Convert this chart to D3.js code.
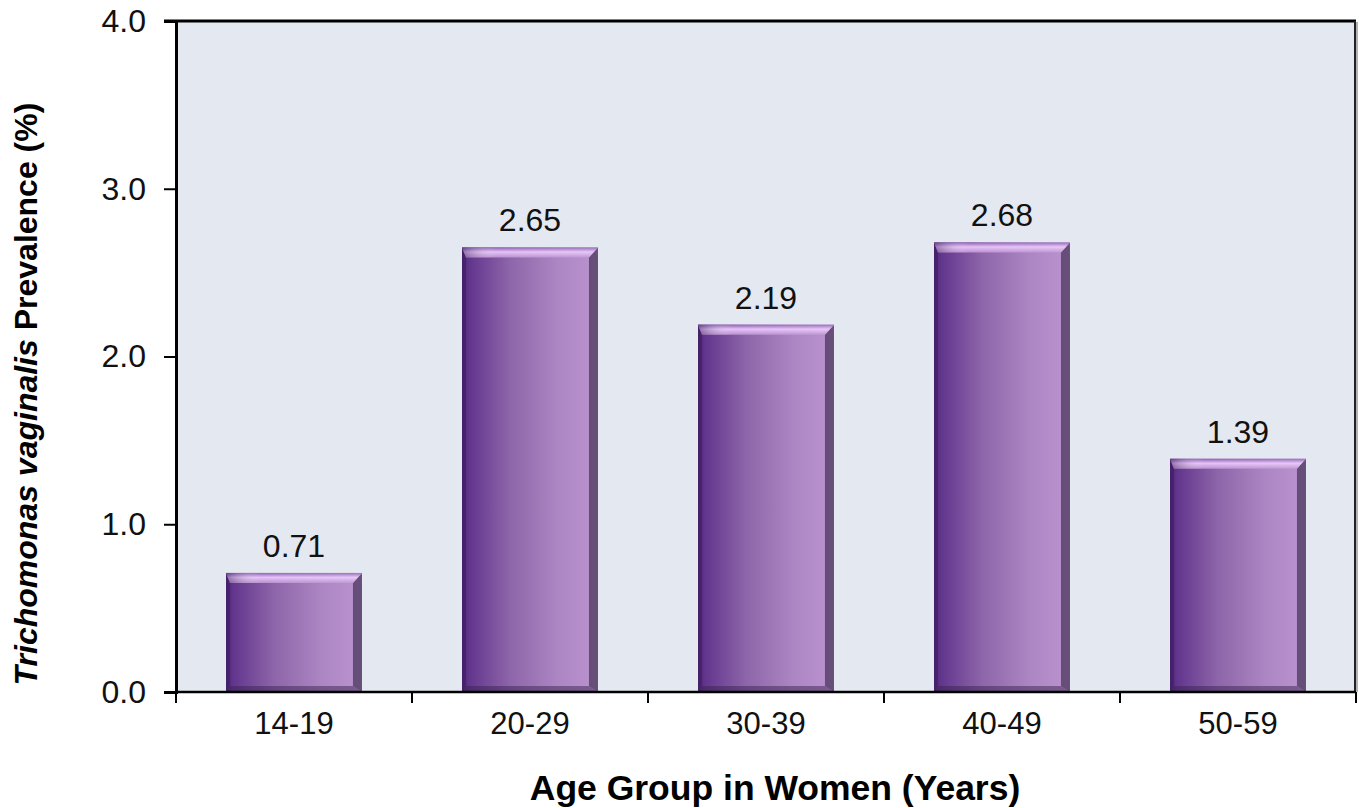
<!DOCTYPE html>
<html>
<head>
<meta charset="utf-8">
<script src="https://cdn.jsdelivr.net/npm/d3@7"></script>
<style>
  html, body { margin: 0; padding: 0; background: #ffffff; }
  svg { display: block; }
  text { font-family: "Liberation Sans", Arial, sans-serif; }
</style>
</head>
<body>
<svg id="chart" width="1359" height="808"></svg>
<script>
// Trichomonas vaginalis prevalence by age group
const ageGroups = ["14-19", "20-29", "30-39", "40-49", "50-59"];
const prevalence = [0.71, 2.65, 2.19, 2.68, 1.39];
const yTicks = [0, 1, 2, 3, 4];

const W = 1359, H = 808;
const margin = { top: 21, right: 3, bottom: 116, left: 176 };
const innerW = W - margin.left - margin.right;
const innerH = H - margin.top - margin.bottom;

const svg = d3.select("#chart");
const defs = svg.append("defs");

// Face gradient: deep purple on the left fading to lavender on the right
const face = defs.append("linearGradient").attr("id", "barFace")
  .attr("x1", "0%").attr("x2", "100%").attr("y1", "0%").attr("y2", "0%");
[["0%", "#4c2474"], ["5%", "#62358d"], ["35%", "#8d65a9"], ["70%", "#ac86c3"], ["100%", "#bb93cf"]]
  .forEach(([o, c]) => face.append("stop").attr("offset", o).attr("stop-color", c));

// Top bevel highlight
const topG = defs.append("linearGradient").attr("id", "barTop")
  .attr("x1", "0%").attr("x2", "0%").attr("y1", "0%").attr("y2", "100%");
[["0%", "#8e62b2"], ["45%", "#e6c2f8"], ["100%", "#b890cf"]]
  .forEach(([o, c]) => topG.append("stop").attr("offset", o).attr("stop-color", c));
const topH = defs.append("linearGradient").attr("id", "barTopH")
  .attr("x1", "0%").attr("x2", "100%").attr("y1", "0%").attr("y2", "0%");
[["0%", "#2a0a4a", 0.45], ["25%", "#fff", 0], ["100%", "#fff", 0.1]]
  .forEach(([o, c, a]) => topH.append("stop").attr("offset", o).attr("stop-color", c).attr("stop-opacity", a));

const g = svg.append("g").attr("transform", `translate(${margin.left},${margin.top})`);

const x = d3.scaleBand().domain(ageGroups).range([0, innerW]).paddingInner(0.424).paddingOuter(0.212);
const y = d3.scaleLinear().domain([0, 4]).range([innerH, 0]);

// Plot background
g.append("rect").attr("x", 0).attr("y", 0).attr("width", innerW).attr("height", innerH)
  .attr("fill", "#e4e8f0");

// Frame: top and right edges
g.append("line").attr("x1", -12).attr("x2", innerW).attr("y1", 0).attr("y2", 0)
  .attr("stroke", "#000").attr("stroke-width", 3);
g.append("line").attr("x1", innerW - 1).attr("x2", innerW - 1).attr("y1", 0).attr("y2", innerH)
  .attr("stroke", "#222").attr("stroke-width", 2);
g.append("line").attr("x1", innerW + 1).attr("x2", innerW + 1).attr("y1", 1).attr("y2", innerH)
  .attr("stroke", "#9a9a9a").attr("stroke-width", 1.5);

// Bars with bevelled edges
const data = ageGroups.map((k, i) => ({ k, v: prevalence[i] }));
const bars = g.selectAll("g.bar").data(data).join("g").attr("class", "bar");
const bevTop = 10, bevSide = 9, bevLeft = 4, bevBottom = 6;
bars.each(function (d) {
  const sel = d3.select(this);
  const x0 = x(d.k), x1 = x0 + x.bandwidth();
  const y0 = y(d.v), y1 = y(0);
  sel.append("rect").attr("x", x0).attr("y", y0).attr("width", x1 - x0).attr("height", y1 - y0)
    .attr("fill", "url(#barFace)");
  const poly = (pts, fill, op) => sel.append("polygon")
    .attr("points", pts.map(p => p.join(",")).join(" "))
    .attr("fill", fill).attr("fill-opacity", op == null ? 1 : op);
  // left edge
  poly([[x0, y0], [x0 + bevLeft, y0 + bevTop], [x0 + bevLeft, y1 - bevBottom], [x0, y1]], "#3c1a5c", 0.5);
  // bottom edge
  poly([[x0, y1], [x0 + bevLeft, y1 - bevBottom], [x1 - bevSide, y1 - bevBottom], [x1, y1]], "#3a2450", 0.5);
  // right edge
  poly([[x1, y0], [x1 - bevSide, y0 + bevTop], [x1 - bevSide, y1 - bevBottom], [x1, y1]], "#3b2a4c", 0.65);
  // top highlight
  const topPts = [[x0, y0], [x1, y0], [x1 - bevSide, y0 + bevTop], [x0 + bevLeft, y0 + bevTop]];
  poly(topPts, "url(#barTop)");
  poly(topPts, "url(#barTopH)");
});

// Value labels
g.selectAll("text.val").data(data).join("text").attr("class", "val")
  .attr("x", d => x(d.k) + x.bandwidth() / 2)
  .attr("y", d => y(d.v) - 16)
  .attr("text-anchor", "middle")
  .attr("font-size", 32).attr("fill", "#111")
  .text(d => d.v.toFixed(2));

// Y axis
const yAxis = g.append("g").call(d3.axisLeft(y).tickValues(yTicks).tickFormat(d3.format(".1f"))
  .tickSize(12).tickPadding(18));
yAxis.attr("font-size", null).attr("font-family", null);
yAxis.select(".domain").attr("stroke", "#000").attr("stroke-width", 3);
yAxis.selectAll(".tick line").attr("stroke", "#000").attr("stroke-width", 2);
yAxis.selectAll(".tick text").attr("font-size", 32).attr("fill", "#111");

// X axis with boundary ticks between categories
const xAxisG = g.append("g").attr("transform", `translate(0,${innerH})`);
xAxisG.append("line").attr("x1", 0).attr("x2", innerW).attr("y1", 0).attr("y2", 0)
  .attr("stroke", "#000").attr("stroke-width", 2.5);
const step = x.step();
const bounds = d3.range(ageGroups.length + 1).map(i => i * step);
xAxisG.selectAll("line.tk").data(bounds).join("line").attr("class", "tk")
  .attr("x1", d => d).attr("x2", d => d).attr("y1", 0).attr("y2", 11)
  .attr("stroke", "#000").attr("stroke-width", 2);
xAxisG.selectAll("text.cat").data(ageGroups).join("text").attr("class", "cat")
  .attr("x", d => x(d) + x.bandwidth() / 2).attr("y", 42)
  .attr("text-anchor", "middle").attr("font-size", 31).attr("fill", "#111")
  .text(d => d);

// Axis titles
svg.append("text")
  .attr("x", 775).attr("y", 800)
  .attr("text-anchor", "middle").attr("font-size", 35.5).attr("font-weight", "bold")
  .attr("fill", "#000").text("Age Group in Women (Years)");

const yt = svg.append("text")
  .attr("transform", `translate(37,394) rotate(-90)`)
  .attr("text-anchor", "middle").attr("font-size", 32).attr("font-weight", "bold").attr("fill", "#000");
yt.append("tspan").attr("font-style", "italic").text("Trichomonas vaginalis");
yt.append("tspan").text(" Prevalence (%)");
</script>
</body>
</html>
